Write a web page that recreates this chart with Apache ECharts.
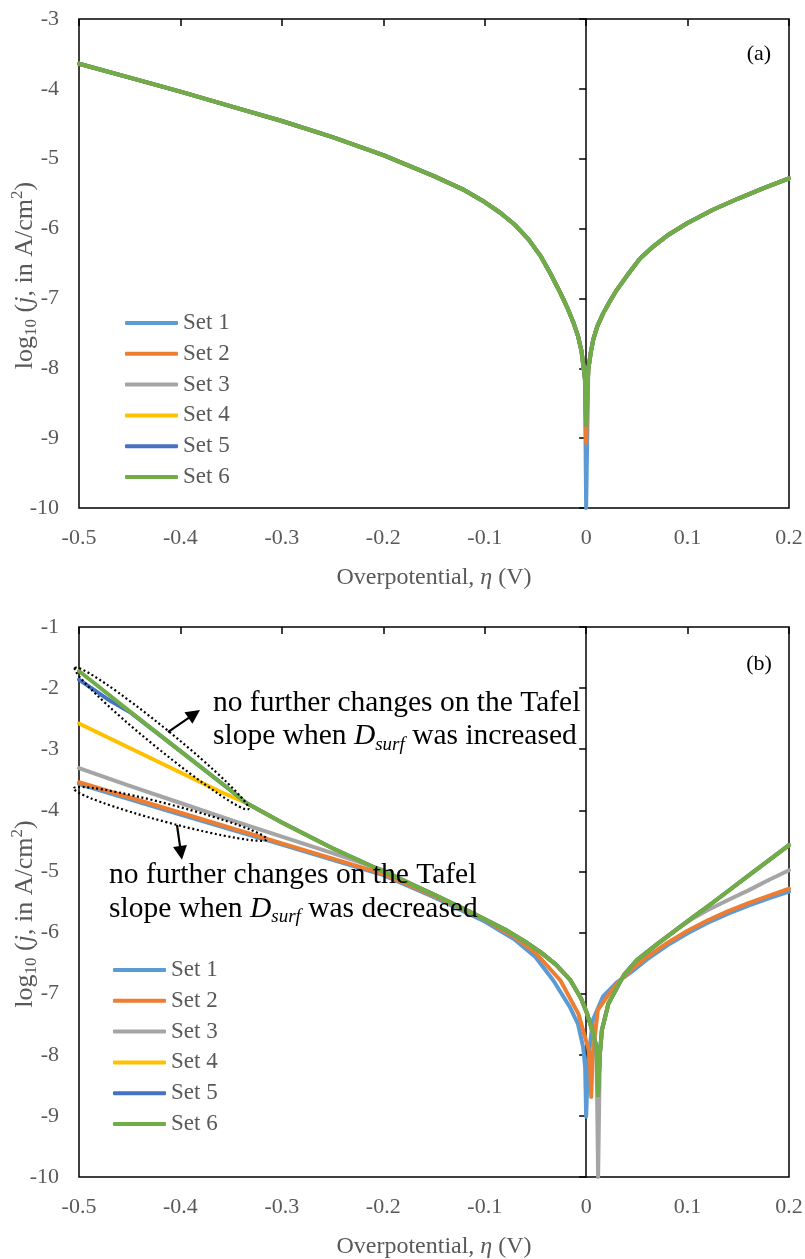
<!DOCTYPE html>
<html><head><meta charset="utf-8">
<script src="https://cdn.jsdelivr.net/npm/echarts/dist/echarts.min.js"></script>
<style>html,body{margin:0;padding:0;background:#fff}#c{width:805px;height:1259px}</style>
</head><body><div id="c"></div>
<script>
// ---------- data ----------
const setNames = ['Set 1','Set 2','Set 3','Set 4','Set 5','Set 6'];
const setColors = ['#5B9BD5','#ED7D31','#A5A5A5','#FFC000','#4472C4','#70AD47'];
const xTicks = [-0.5,-0.4,-0.3,-0.2,-0.1,0,0.1,0.2];
const yTicksA = [-10,-9,-8,-7,-6,-5,-4,-3];
const yTicksB = [-10,-9,-8,-7,-6,-5,-4,-3,-2,-1];

// Panel (a): all sets coincide except the depth of the dip at eta = 0
const etaA_L  = [-0.5,-0.45,-0.4,-0.35,-0.3,-0.25,-0.2,-0.15,-0.12,-0.1,-0.085,-0.07,-0.057,-0.045,-0.035,-0.0258,-0.018,-0.0127,-0.008,-0.0045,-0.0012];
const logjA_L = [-3.64,-3.84,-4.04,-4.25,-4.46,-4.69,-4.95,-5.25,-5.45,-5.62,-5.77,-5.95,-6.15,-6.39,-6.65,-6.91,-7.15,-7.34,-7.54,-7.76,-8.15];
const etaA_R  = [0.0021,0.0045,0.007,0.011,0.0169,0.023,0.0301,0.04,0.053,0.065,0.08,0.1,0.125,0.15,0.175,0.2];
const logjA_R = [-8.02,-7.78,-7.59,-7.4,-7.21,-7.05,-6.88,-6.68,-6.43,-6.27,-6.1,-5.92,-5.73,-5.57,-5.42,-5.28];
const dipA    = [-10,-9.07,-8.81,-8.81,-8.81,-8.81];

// Panel (b)
const etaB1  = [-0.5,-0.4,-0.3,-0.2,-0.15,-0.1,-0.07,-0.05,-0.0325,-0.016,-0.008,-0.003,-0.001,0,0.002,0.0066,0.0165,0.03,0.045,0.06,0.08,0.1,0.12,0.14,0.16,0.18,0.2];
const logjB1 = [-3.57,-4.07,-4.56,-5.06,-5.42,-5.82,-6.12,-6.4,-6.78,-7.22,-7.5,-7.87,-8.2,-9.01,-8.1,-7.43,-7.05,-6.82,-6.64,-6.44,-6.21,-6.01,-5.84,-5.69,-5.56,-5.44,-5.33];
const etaB2  = [-0.5,-0.4,-0.3,-0.2,-0.15,-0.1,-0.07,-0.05,-0.0255,-0.0076,0.0035,0.005,0.0065,0.0115,0.023,0.0335,0.0435,0.06,0.08,0.1,0.12,0.14,0.16,0.18,0.2];
const logjB2 = [-3.54,-4.04,-4.54,-5.04,-5.4,-5.79,-6.08,-6.33,-6.78,-7.33,-7.98,-8.69,-8.0,-7.27,-6.99,-6.78,-6.62,-6.4,-6.17,-5.97,-5.8,-5.65,-5.52,-5.4,-5.28];
const etaB3  = [-0.5,-0.45,-0.4,-0.35,-0.3,-0.25,-0.2,-0.15,-0.111,-0.08,-0.06,-0.045,-0.03,-0.0155,-0.005,0.001,0.006,0.0102,0.0118,0.0135,0.0155,0.022,0.037,0.05,0.07,0.09,0.106,0.12,0.142,0.16,0.18,0.2];
const logjB3 = [-3.31,-3.6,-3.88,-4.16,-4.43,-4.7,-4.98,-5.38,-5.69,-5.95,-6.15,-6.32,-6.52,-6.78,-7.08,-7.33,-7.6,-7.87,-10,-8.0,-7.6,-7.16,-6.7,-6.45,-6.19,-5.94,-5.76,-5.63,-5.45,-5.31,-5.14,-4.98];
const etaB4  = [-0.5,-0.45,-0.4,-0.36,-0.335,-0.3,-0.25,-0.2,-0.15,-0.111,-0.08,-0.06,-0.045,-0.03,-0.0155,-0.005,0.001,0.006,0.0102,0.0118,0.0135,0.0155,0.022,0.037,0.05,0.07,0.09,0.106,0.12,0.14,0.16,0.18,0.2];
const logjB4 = [-2.58,-2.98,-3.38,-3.7,-3.88,-4.2,-4.62,-5.0,-5.38,-5.69,-5.95,-6.15,-6.32,-6.52,-6.78,-7.08,-7.33,-7.6,-7.87,-8.66,-8.0,-7.6,-7.16,-6.7,-6.45,-6.19,-5.94,-5.74,-5.57,-5.32,-5.07,-4.82,-4.57];
const etaB5  = [-0.5,-0.47,-0.45,-0.4,-0.35,-0.335,-0.3,-0.25,-0.2,-0.15,-0.111,-0.08,-0.06,-0.045,-0.03,-0.0155,-0.005,0.001,0.006,0.0102,0.0118,0.0135,0.0155,0.022,0.037,0.05,0.07,0.09,0.106,0.12,0.14,0.16,0.18,0.2];
const logjB5 = [-1.86,-2.2,-2.39,-3.03,-3.68,-3.88,-4.2,-4.62,-5.0,-5.38,-5.69,-5.95,-6.15,-6.32,-6.52,-6.78,-7.08,-7.33,-7.6,-7.87,-8.66,-8.0,-7.6,-7.16,-6.7,-6.45,-6.19,-5.94,-5.74,-5.57,-5.32,-5.07,-4.82,-4.57];
const etaB6  = [-0.5,-0.45,-0.4,-0.35,-0.335,-0.3,-0.25,-0.2,-0.15,-0.111,-0.08,-0.06,-0.045,-0.03,-0.0155,-0.005,0.001,0.006,0.0102,0.0118,0.0135,0.0155,0.022,0.037,0.05,0.07,0.09,0.106,0.12,0.14,0.16,0.18,0.2];
const logjB6 = [-1.72,-2.38,-3.03,-3.68,-3.88,-4.2,-4.62,-5.0,-5.38,-5.69,-5.95,-6.15,-6.32,-6.52,-6.78,-7.08,-7.33,-7.6,-7.87,-8.66,-8.0,-7.6,-7.16,-6.7,-6.45,-6.19,-5.94,-5.74,-5.57,-5.32,-5.07,-4.82,-4.57];

// annotation anchors (data coordinates of panel b)
const ellipseUp  = [[-0.504,-1.67],[-0.333,-3.98]];
const ellipseLow = [[-0.505,-3.64],[-0.315,-4.475]];
const arrowUp    = [[-0.4123,-2.72],[-0.3807,-2.36]];
const arrowLow   = [[-0.4034,-4.24],[-0.3985,-4.81]];
const noteUpPos  = [-0.3679,-2.24];
const noteLowPos = [-0.4704,-5.06];
const lineStepB  = -0.555;   // text line spacing in data units (b)
const panelLabelA = [0.1704,-3.50];
const panelLabelB = [0.1704,-1.61];

// ---------- build ----------
const FONT = "'Liberation Serif','Times New Roman',serif";
const GREY = '#595959';
const pairs = (xs, ys) => xs.map((x, i) => [x, ys[i]]);
const seriesA = setNames.map((n, i) => pairs(etaA_L, logjA_L).concat([[0, dipA[i]]], pairs(etaA_R, logjA_R)));
const seriesB = [pairs(etaB1,logjB1),pairs(etaB2,logjB2),pairs(etaB3,logjB3),pairs(etaB4,logjB4),pairs(etaB5,logjB5),pairs(etaB6,logjB6)];

const xMin = xTicks[0], xMax = xTicks[xTicks.length-1], xStep = 0.1;

const tickStyle = {show:true, inside:false, length:7, lineStyle:{color:'#000', width:1.5}};
function xAxes(grid, name){
  return [
    {gridIndex:grid, type:'value', min:xMin, max:xMax, interval:xStep, position:'bottom',
     axisLine:{show:false, onZero:false}, axisTick:{show:false}, splitLine:{show:false},
     axisLabel:{margin:19, fontSize:22, color:GREY, fontFamily:FONT},
     name:name, nameLocation:'middle', nameGap:58, nameMoveOverlap:false,
     nameTextStyle:{fontSize:24, color:GREY, fontFamily:FONT, rich:{
       n:{fontSize:24, color:GREY, fontFamily:FONT},
       it:{fontSize:24, color:GREY, fontFamily:FONT, fontStyle:'italic'}}}},
    {gridIndex:grid, type:'value', min:xMin, max:xMax, interval:xStep, position:'top',
     axisLine:{show:false, onZero:false}, axisTick:{show:true, inside:true, length:7, lineStyle:{color:'#000', width:1.5}},
     splitLine:{show:false}, axisLabel:{show:false}}
  ];
}
const yNameRich = {
  n:{fontSize:26, color:GREY, fontFamily:FONT, lineHeight:32},
  it:{fontSize:26, color:GREY, fontFamily:FONT, fontStyle:'italic', lineHeight:32},
  sub:{fontSize:17, color:GREY, fontFamily:FONT, lineHeight:32, padding:[13,0,0,0]},
  sup:{fontSize:17, color:GREY, fontFamily:FONT, lineHeight:32, padding:[0,0,15,0]}
};
const yName = '{n|log}{sub|10}{n| (}{it|j}{n|, in A/cm}{sup|2}{n|)}';
function yAxes(grid, ticks){
  const mn = ticks[0], mx = ticks[ticks.length-1];
  return [
    {gridIndex:grid, type:'value', min:mn, max:mx, interval:1, position:'left',
     axisLine:{show:false, onZero:false}, axisTick:{show:false}, splitLine:{show:false},
     axisLabel:{margin:20, fontSize:22, color:GREY, fontFamily:FONT},
     name:yName, nameLocation:'middle', nameGap:38, nameMoveOverlap:false,
     nameTextStyle:{rich:yNameRich, padding:[0,24,0,0]}},
    {gridIndex:grid, type:'value', min:mn, max:mx, interval:1, position:'left',
     axisLine:{show:true, onZero:true, lineStyle:{color:'#000', width:1.5}},
     axisTick:tickStyle, splitLine:{show:false}, axisLabel:{show:false}}
  ];
}
const xName = '{n|Overpotential, }{it|η}{n| (V)}';

const series = [];
seriesA.forEach((d, i) => series.push({name:setNames[i], type:'line', xAxisIndex:0, yAxisIndex:0, data:d,
  symbol:'none', smooth:false, lineStyle:{width:4, color:setColors[i], cap:'round', join:'round'}, itemStyle:{color:setColors[i]}, z:2+i}));
seriesB.forEach((d, i) => series.push({name:setNames[i], type:'line', xAxisIndex:2, yAxisIndex:2, data:d,
  symbol:'none', smooth:false, lineStyle:{width:4, color:setColors[i], cap:'round', join:'round'}, itemStyle:{color:setColors[i]}, z:2+i}));

const legendBase = {orient:'vertical', data:setNames, icon:'roundRect', itemWidth:53, itemHeight:4, itemGap:7.8,
  padding:0, selectedMode:false, textStyle:{fontSize:23, color:GREY, fontFamily:FONT}};

const option = {
  animation:false,
  backgroundColor:'#fff',
  grid:[
    {left:79, top:19, width:710, height:489, show:true, borderColor:'#000', borderWidth:1.5, outerBoundsMode:'none'},
    {left:79, top:627, width:710, height:550, show:true, borderColor:'#000', borderWidth:1.5, outerBoundsMode:'none'}
  ],
  xAxis: xAxes(0, xName).concat(xAxes(1, xName)),
  yAxis: yAxes(0, yTicksA).concat(yAxes(1, yTicksB)),
  legend:[
    Object.assign({left:125, top:311.5}, legendBase),
    Object.assign({left:113, top:958.5}, legendBase)
  ],
  series: series
};

const chart = echarts.init(document.getElementById('c'), null, {renderer:'canvas'});
chart.setOption(option);

// ---------- annotations ----------
const PB = p => chart.convertToPixel({gridIndex:1}, p);
const PA = p => chart.convertToPixel({gridIndex:0}, p);
function ellipseEl(a, b, ry){
  const p1 = PB(a), p2 = PB(b);
  const dx = p2[0]-p1[0], dy = p2[1]-p1[1];
  return {type:'ellipse', x:(p1[0]+p2[0])/2, y:(p1[1]+p2[1])/2, rotation:-Math.atan2(dy, dx),
    shape:{cx:0, cy:0, rx:Math.hypot(dx, dy)/2, ry:ry},
    style:{fill:'none', stroke:'#000', lineWidth:2.2, lineDash:[2,2.6]}, z:100};
}
function arrowEls(a, b){
  const p0 = PB(a), p1 = PB(b);
  const dx = p1[0]-p0[0], dy = p1[1]-p0[1], L = Math.hypot(dx, dy), ux = dx/L, uy = dy/L;
  const hl = 14, hw = 7;
  const bx = p1[0]-ux*hl, by = p1[1]-uy*hl;
  return [
    {type:'line', shape:{x1:p0[0], y1:p0[1], x2:bx+ux*2, y2:by+uy*2}, style:{stroke:'#000', lineWidth:2.2}, z:100},
    {type:'polygon', shape:{points:[[p1[0],p1[1]],[bx-uy*hw, by+ux*hw],[bx+uy*hw, by-ux*hw]]}, style:{fill:'#000'}, z:100}
  ];
}
const noteRich = {
  n:{fontSize:29.5, fontFamily:FONT, fill:'#000', color:'#000', lineHeight:34},
  it:{fontSize:29.5, fontFamily:FONT, fontStyle:'italic', fill:'#000', color:'#000', lineHeight:34},
  sub:{fontSize:19, fontFamily:FONT, fontStyle:'italic', fill:'#000', color:'#000', lineHeight:34, padding:[16,0,0,0]}
};
function noteEls(pos, word){
  const p = PB(pos), q = PB([pos[0], pos[1]+lineStepB]);
  return [
    {type:'text', x:p[0], y:p[1], z:101, style:{text:'{n|no further changes on the Tafel}', rich:noteRich,
      align:'left', verticalAlign:'middle', textAlign:'left', textVerticalAlign:'middle'}},
    {type:'text', x:q[0], y:q[1], z:101, style:{text:'{n|slope when }{it|D}{sub|surf}{n| was ' + word + '}', rich:noteRich,
      align:'left', verticalAlign:'middle', textAlign:'left', textVerticalAlign:'middle'}}
  ];
}
function panelLabel(p, t){
  return {type:'text', x:p[0], y:p[1], z:101, style:{text:t, font:'22px ' + FONT, fill:'#000',
    align:'center', verticalAlign:'middle', textAlign:'center', textVerticalAlign:'middle'}};
}
const graphics = []
  .concat([ellipseEl(ellipseUp[0], ellipseUp[1], 10), ellipseEl(ellipseLow[0], ellipseLow[1], 9)])
  .concat(arrowEls(arrowUp[0], arrowUp[1]), arrowEls(arrowLow[0], arrowLow[1]))
  .concat(noteEls(noteUpPos, 'increased'), noteEls(noteLowPos, 'decreased'))
  .concat([panelLabel(PA(panelLabelA), '(a)'), panelLabel(PB(panelLabelB), '(b)')]);
chart.setOption({graphic: graphics});
</script>
</body></html>
